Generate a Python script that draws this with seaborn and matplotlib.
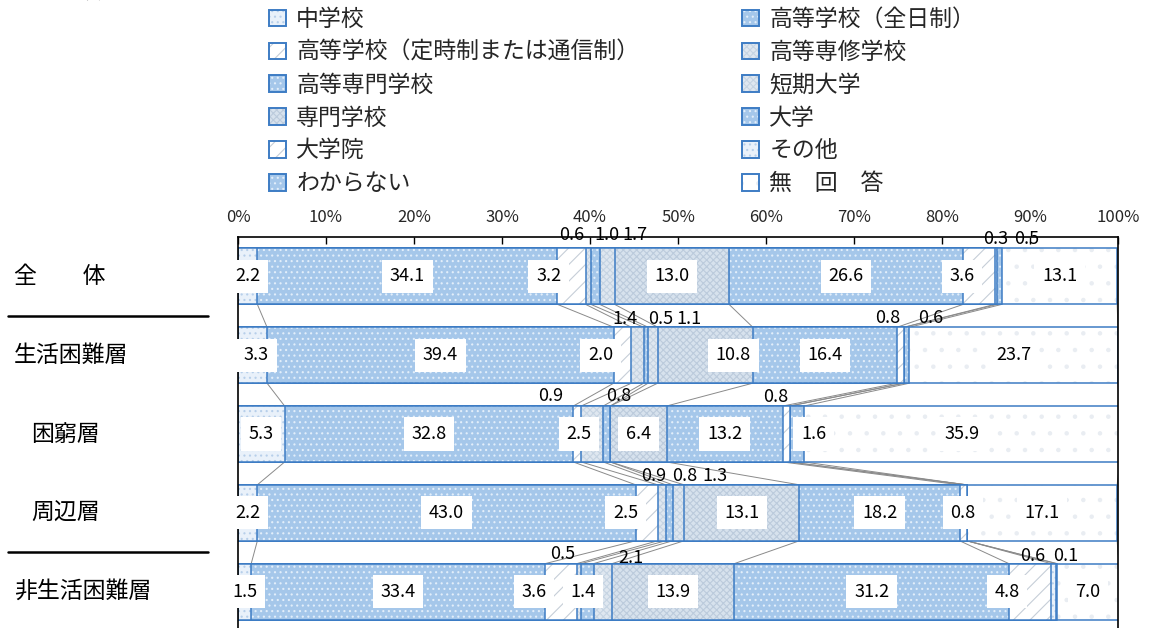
import matplotlib
matplotlib.use("Agg")
import matplotlib.pyplot as plt
import numpy as np
import pandas as pd
import seaborn as sns
from matplotlib.patches import Rectangle
from matplotlib.legend_handler import HandlerTuple
from matplotlib.lines import Line2D
from matplotlib.transforms import blended_transform_factory

# ---- data -------------------------------------------------------------
groups = ["全　　体", "生活困難層", "困窮層", "周辺層", "非生活困難層"]
categories = ["中学校", "高等学校（全日制）", "高等学校（定時制または通信制）", "高等専修学校",
              "高等専門学校", "短期大学", "専門学校", "大学", "大学院", "その他",
              "わからない", "無　回　答"]

v_total = [2.2, 34.1, 3.2, 0.6, 1.0, 1.7, 13.0, 26.6, 3.6, 0.3, 0.5, 13.1]
v_hard = [3.3, 39.4, 2.0, 1.4, 0.5, 1.1, 10.8, 16.4, 0.8, 0.0, 0.6, 23.7]
v_poor = [5.3, 32.8, 0.9, 2.5, 0.8, 0.0, 6.4, 13.2, 0.8, 0.0, 1.6, 35.9]
v_edge = [2.2, 43.0, 2.5, 0.9, 0.8, 1.3, 13.1, 18.2, 0.8, 0.0, 0.0, 17.1]
v_nonhard = [1.5, 33.4, 3.6, 0.5, 1.4, 2.1, 13.9, 31.2, 4.8, 0.6, 0.1, 7.0]

tick_values = [0, 10, 20, 30, 40, 50, 60, 70, 80, 90, 100]
tick_labels = ["0%", "10%", "20%", "30%", "40%", "50%", "60%", "70%", "80%", "90%", "100%"]

header = "年全体保護者"

# ---- styling ----------------------------------------------------------
OUTLINE = "#3d7cc4"
SERIES_LINE = "#8a8a8a"
BAR_W = 0.71
W, H = 1152, 628

dots_light = dict(face="#e9f1fa", hatch="...", hcolor="#b7cfea")
dots_blue = dict(face="#a5c7ea", hatch="...", hcolor="#e2eefa")
diag = dict(face="#ffffff", hatch="//", hcolor="#c6ced8")
mesh = dict(face="#dfe7f0", hatch="xxxxx", hcolor="#c6d4e3")
mesh_dark = dict(face="#d7e2ed", hatch="xxxxx", hcolor="#bccbdc")
blank = dict(face="#ffffff", hatch=".", hcolor="#e9edf2")
styles = [dots_light, dots_blue, diag, mesh, dots_blue, mesh, mesh_dark,
          dots_blue, diag, dots_light, dots_blue, blank]

indent = [14, 14, 31, 31, 14]

# narrow segments: label drawn above the bar -> (shift in %, lift in px)
above = {
    (0, 3): (-1.9, 13), (0, 4): (1.3, 13), (0, 5): (3.2, 13), (0, 9): (0.0, 9), (0, 10): (3.1, 9),
    (1, 3): (-1.4, 8), (1, 4): (1.7, 8), (1, 5): (4.1, 8), (1, 8): (-1.5, 9), (1, 10): (2.7, 9),
    (2, 2): (-3.0, 10), (2, 4): (1.4, 10), (2, 8): (-1.2, 9),
    (3, 3): (-0.9, 9), (3, 4): (1.8, 9), (3, 5): (4.1, 9),
    (4, 3): (-1.8, 10), (4, 5): (3.2, 6), (4, 9): (-2.4, 8), (4, 10): (1.0, 8),
}
# horizontal shift (in %) of some boxed labels inside the bars
inside_shift = {
    (0, 2): -2.6, (0, 8): -1.9, (1, 0): 0.45, (1, 2): -2.5, (1, 6): 3.2,
    (2, 3): -1.5, (2, 10): 1.9, (3, 2): -2.4, (4, 2): -3.1, (4, 4): -0.5, (4, 8): -2.6,
}

sns.set_theme(style="white")
plt.rcParams["font.family"] = ["Noto Sans CJK JP", "DejaVu Sans"]
plt.rcParams["hatch.linewidth"] = 0.8
plt.rcParams["axes.unicode_minus"] = False

values = np.array([v_total, v_hard, v_poor, v_edge, v_nonhard])
cum = values.cumsum(axis=1)
n_rows, n_cat = values.shape

fig = plt.figure(figsize=(W / 100, H / 100), dpi=100)
ax = fig.add_axes([238 / W, -3 / H, 880 / W, 394 / H])

# stacked bars: cumulative totals drawn from the outermost layer inwards
for k in range(n_cat - 1, -1, -1):
    st = styles[k]
    layer = pd.DataFrame({"group": groups, "cum": cum[:, k]})
    sns.barplot(data=layer, x="cum", y="group", order=groups, orient="y", errorbar=None,
                width=BAR_W, ax=ax, facecolor=st["face"], edgecolor=st["hcolor"],
                linewidth=0, hatch=st["hatch"], zorder=2)
    sns.barplot(data=layer, x="cum", y="group", order=groups, orient="y", errorbar=None,
                width=BAR_W, ax=ax, facecolor="none", edgecolor=OUTLINE,
                linewidth=1.1, zorder=2)

# series lines joining segment ends of neighbouring bars
half = BAR_W / 2
for k in range(n_cat):
    for r in range(n_rows - 1):
        ax.plot([cum[r, k], cum[r + 1, k]], [r + half, r + 1 - half],
                color=SERIES_LINE, lw=0.7, zorder=1.5, solid_capstyle="butt")

# value labels
for r in range(n_rows):
    starts = cum[r] - values[r]
    for k in range(n_cat):
        v = values[r, k]
        if v <= 0:
            continue
        center = starts[k] + v / 2
        text = f"{v:.1f}"
        if (r, k) in above:
            dx, lift = above[(r, k)]
            ax.annotate(text, xy=(center + dx, r - half), xytext=(0, lift * 0.72),
                        textcoords="offset points", ha="center", va="center",
                        fontsize=13, color="black", zorder=6, annotation_clip=False)
        else:
            dx = inside_shift.get((r, k), 0.0)
            ax.text(center + dx, r, text, ha="center", va="center", fontsize=13,
                    color="black", zorder=6,
                    bbox=dict(boxstyle="square,pad=0.42", fc="white", ec="none"))

# axes
ax.set_xlim(0, 100)
ax.set_ylim(n_rows - 0.5, -0.5)
ax.set_xticks(tick_values)
ax.set_xticklabels(tick_labels)
ax.xaxis.tick_top()
ax.tick_params(axis="x", direction="in", length=5, width=1.0, color="black",
               labelsize=12, pad=8, top=True, bottom=False)
ax.set_yticks([])
ax.set_xlabel("")
ax.set_ylabel("")
for side, sp in ax.spines.items():
    sp.set_color("black")
    sp.set_linewidth(1.2)
    sp.set_zorder(4)

# group names and separators at the left
trans = blended_transform_factory(fig.transFigure, ax.transData)
for r, g in enumerate(groups):
    ax.text(indent[r] / W, r, g, transform=trans, ha="left", va="center",
            fontsize=16.5, color="black", clip_on=False)
for yb in (0.5, 3.5):
    ax.add_artist(Line2D([8 / W, 208 / W], [yb, yb], transform=trans, color="black",
                         lw=1.8, clip_on=False))

fig.text(-12 / W, 1 + 8 / H, header, ha="left", va="center", fontsize=16.5, color="black")

# legend in two columns
def legend_handle(st):
    return (Rectangle((0, 0), 1, 1, facecolor=st["face"], edgecolor=st["hcolor"],
                      hatch=st["hatch"], lw=0),
            Rectangle((0, 0), 1, 1, facecolor="none", edgecolor=OUTLINE, lw=1.4))

for idxs, x0 in ((range(0, n_cat, 2), 269), (range(1, n_cat, 2), 742)):
    idxs = list(idxs)
    fig.legend([legend_handle(styles[i]) for i in idxs], [categories[i] for i in idxs],
               handler_map={tuple: HandlerTuple(ndivide=1, pad=0)},
               loc="upper left", bbox_to_anchor=(x0 / W, 1 - 8 / H), frameon=False,
               prop=dict(size=16.5), handlelength=0.74, handleheight=0.74,
               handletextpad=0.45, labelspacing=0.43, borderpad=0, borderaxespad=0)

fig.savefig("out.png", dpi=100)
